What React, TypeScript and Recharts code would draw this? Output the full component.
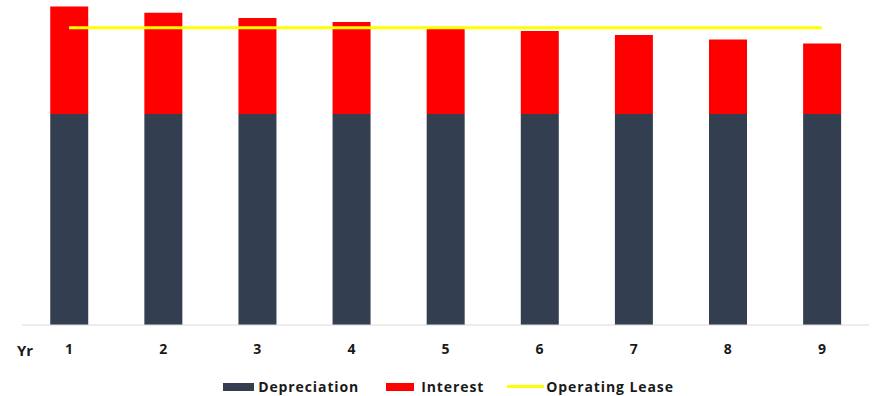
import { ComposedChart, Bar, Line, XAxis, YAxis, Legend } from 'recharts';

const years = ['1', '2', '3', '4', '5', '6', '7', '8', '9'];
const depreciation = [1000, 1000, 1000, 1000, 1000, 1000, 1000, 1000, 1000];
const interest = [509, 479, 455, 436, 412, 393, 374, 353, 334];
const operatingLease = [1408, 1408, 1408, 1408, 1408, 1408, 1408, 1408, 1408];

const chartData = years.map((yr, i) => ({
  yr,
  depreciation: depreciation[i],
  interest: interest[i],
  lease: operatingLease[i],
}));

const FONT = '"Open Sans", Lato, sans-serif';

const legendItems = [
  { label: 'Depreciation', color: '#333F50', type: 'rect', w: 31, gap: 4, after: 27 },
  { label: 'Interest', color: '#FF0000', type: 'rect', w: 28, gap: 7, after: 23 },
  { label: 'Operating Lease', color: '#FFFF00', type: 'line', w: 37, gap: 2, after: 0 },
];

function LegendContent() {
  return (
    <div style={{ display: 'flex', justifyContent: 'center', alignItems: 'center', fontFamily: FONT, fontWeight: 700, fontSize: 14, letterSpacing: 0.9, color: '#1a1a1a', paddingLeft: 6, paddingTop: 12 }}>
      {legendItems.map((item) => (
        <div key={item.label} style={{ display: 'flex', alignItems: 'center', marginRight: item.after }}>
          <span style={{ display: 'inline-block', width: item.w, height: item.type === 'rect' ? 8 : 3, background: item.color, marginRight: item.gap }} />
          <span>{item.label}</span>
        </div>
      ))}
    </div>
  );
}

function YearTick(props: any) {
  const { x, y, payload } = props;
  return (
    <text x={x} y={y + 21} textAnchor="middle" fontFamily={FONT} fontWeight={700} fontSize={14} fill="#1a1a1a">
      {payload.value}
    </text>
  );
}

function YrLabel(props: any) {
  const { viewBox } = props;
  return (
    <text x={viewBox.x - 5} y={viewBox.y + 31} textAnchor="start" fontFamily={FONT} fontWeight={700} fontSize={15} fill="#1a1a1a">
      Yr
    </text>
  );
}

export default function App() {
  return (
    <div style={{ position: 'absolute', left: 0, top: 0, background: '#fff' }}>
      <ComposedChart
        width={875}
        height={396}
        data={chartData}
        margin={{ top: 0, right: 6, left: 22, bottom: 0 }}
        barCategoryGap="30%"
      >
        <XAxis
          dataKey="yr"
          axisLine={{ stroke: '#D9D9D9', strokeWidth: 1 }}
          tickLine={false}
          tick={<YearTick />}
          height={40}
          label={<YrLabel />}
        />
        <YAxis hide domain={[0, 1540]} />
        <Legend verticalAlign="bottom" height={31} content={<LegendContent />} />
        <Bar dataKey="depreciation" stackId="a" fill="#333F50" isAnimationActive={false} />
        <Bar dataKey="interest" stackId="a" fill="#FF0000" isAnimationActive={false} />
        <Line dataKey="lease" stroke="#FFFF00" strokeWidth={3} dot={false} isAnimationActive={false} />
      </ComposedChart>
    </div>
  );
}
